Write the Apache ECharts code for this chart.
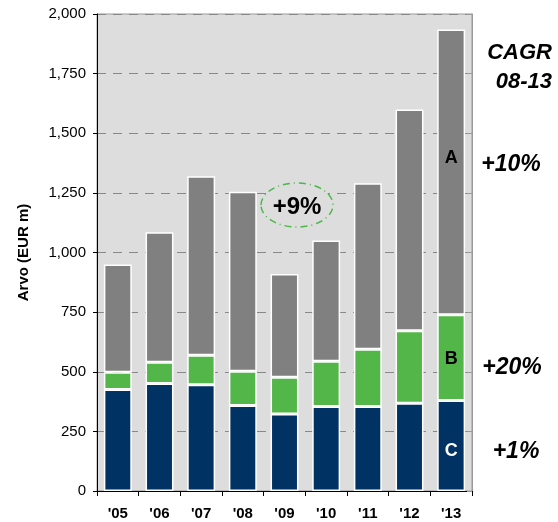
<!DOCTYPE html>
<html>
<head>
<meta charset="utf-8">
<script src="https://cdn.jsdelivr.net/npm/echarts@6/dist/echarts.min.js"></script>
<style>
  html, body { margin: 0; padding: 0; background: #fff; }
  #chart { width: 558px; height: 522px; }
</style>
</head>
<body>
<div id="chart"></div>
<script>
// vuodet
const years = ["'05", "'06", "'07", "'08", "'09", "'10", "'11", "'12", "'13"]
// segmentit alhaalta ylös
const valuesC = [426, 451, 446, 359, 323, 354, 354, 368, 379]
const valuesB = [72, 89, 123, 143, 154, 190, 240, 304, 360]
const valuesA = [452, 545, 751, 753, 433, 506, 696, 928, 1196]
const cagrLabels = ['+10%', '+20%', '+1%']

const font = '"Liberation Sans", Arial, sans-serif'
const chart = echarts.init(document.getElementById('chart'))

// viimeisen pylvään segmenttikirjain
const withLetter = (arr, letter, color, offsetY) => arr.map((v, i) => {
  if (i !== arr.length - 1) return v
  return {
    value: v,
    label: {
      show: true,
      position: 'inside',
      formatter: letter,
      color: color,
      fontSize: 18,
      fontWeight: 'bold',
      fontFamily: font,
      offset: [0, offsetY]
    }
  }
})

const barStyle = (color) => ({ color: color, borderColor: '#fff', borderWidth: 1.5 })

const option = {
  animation: false,
  grid: {
    left: 97, top: 14, right: 86, bottom: 31,
    show: true,
    backgroundColor: '#DDDDDD',
    borderColor: '#999',
    borderWidth: 1
  },
  xAxis: {
    type: 'category',
    data: years,
    axisLine: { lineStyle: { color: '#000', width: 1 } },
    axisTick: { show: true, length: 5, lineStyle: { color: '#000' } },
    axisLabel: { color: '#000', fontSize: 15, fontWeight: 'bold', fontFamily: font, margin: 15 }
  },
  yAxis: [
    {
      type: 'value',
      min: 0, max: 2000, interval: 250,
      name: 'Arvo (EUR m)',
      nameLocation: 'middle',
      nameGap: 66,
      nameTextStyle: { color: '#000', fontSize: 15, fontWeight: 'bold', fontFamily: font },
      axisLine: { show: true, lineStyle: { color: '#000', width: 1 } },
      axisTick: { show: true, length: 4, lineStyle: { color: '#000' } },
      axisLabel: {
        color: '#000', fontSize: 15, fontFamily: font, margin: 11,
        formatter: (v) => v.toLocaleString('en-US')
      },
      splitLine: { show: true, lineStyle: { color: '#888', type: [9, 7], width: 1 } }
    },
    {
      type: 'value',
      min: 0, max: 2000, interval: 250,
      position: 'right',
      axisLine: { show: true, lineStyle: { color: '#999', width: 1 } },
      axisTick: { show: true, inside: true, length: 5, lineStyle: { color: '#999' } },
      axisLabel: { show: false },
      splitLine: { show: false }
    }
  ],
  series: [
    {
      name: 'C', type: 'bar', stack: 'total', barCategoryGap: '33%',
      data: withLetter(valuesC, 'C', '#fff', 5),
      itemStyle: barStyle('#003263')
    },
    {
      name: 'B', type: 'bar', stack: 'total',
      data: withLetter(valuesB, 'B', '#000', 1),
      itemStyle: barStyle('#52B748')
    },
    {
      name: 'A', type: 'bar', stack: 'total',
      data: withLetter(valuesA, 'A', '#000', -14),
      itemStyle: barStyle('#808080')
    }
  ],
  graphic: [
    // +9% ellipsi
    {
      type: 'ellipse', z: 100,
      shape: { cx: 297, cy: 205, rx: 36, ry: 22 },
      style: { fill: '#DDDDDD', stroke: '#4CB848', lineWidth: 1.5, lineDash: [7, 4, 1, 4] }
    },
    {
      type: 'text', z: 101, x: 297, y: 207,
      style: { text: '+9%', fill: '#000', font: 'bold 24px ' + font, align: 'center', verticalAlign: 'middle' }
    },
    // CAGR-otsikko
    {
      type: 'text', x: 552, y: 53,
      style: { text: 'CAGR', fill: '#000', font: 'italic bold 22px ' + font, align: 'right', verticalAlign: 'middle' }
    },
    {
      type: 'text', x: 552, y: 82,
      style: { text: '08-13', fill: '#000', font: 'italic bold 22px ' + font, align: 'right', verticalAlign: 'middle' }
    },
    {
      type: 'text', x: 511, y: 165,
      style: { text: cagrLabels[0], fill: '#000', font: 'italic bold 23px ' + font, align: 'center', verticalAlign: 'middle' }
    },
    {
      type: 'text', x: 512, y: 368,
      style: { text: cagrLabels[1], fill: '#000', font: 'italic bold 23px ' + font, align: 'center', verticalAlign: 'middle' }
    },
    {
      type: 'text', x: 516, y: 452,
      style: { text: cagrLabels[2], fill: '#000', font: 'italic bold 23px ' + font, align: 'center', verticalAlign: 'middle' }
    }
  ]
}

chart.setOption(option)
</script>
</body>
</html>
